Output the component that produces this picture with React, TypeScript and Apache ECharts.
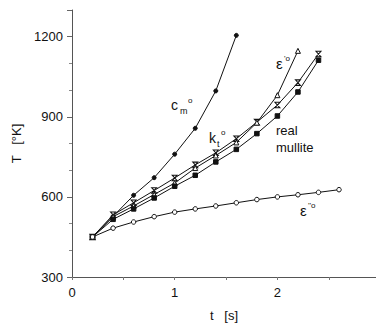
import React, { useEffect, useRef } from "react";
import * as echarts from "echarts";

// Time steps (s) and temperature curves (K)
const tSteps = [0.2, 0.4, 0.6, 0.8, 1.0, 1.2, 1.4, 1.6, 1.8, 2.0, 2.2, 2.4, 2.6];

const cmValues = [450, 527, 606, 672, 760, 857, 997, 1205];
const ktValues = [450, 533, 578, 624, 671, 720, 765, 818, 880, 944, 1028, 1135];
const epsPrimeValues = [450, 526, 566, 609, 652, 708, 755, 804, 878, 981, 1147];
const mulliteValues = [450, 516, 555, 596, 640, 681, 731, 778, 837, 903, 993, 1112];
const epsDoubleValues = [450, 483, 506, 526, 543, 555, 566, 578, 590, 600, 608, 617, 627];

const yTicks = [300, 600, 900, 1200];
const xTickLabels = ["0", "1", "2"];

const FONT = "Liberation Sans, Arial, sans-serif";
const INK = "#111";

const pairs = (vals: number[]) => vals.map((v, i) => [tSteps[i], v]);

const hourglass = "path://M0,0L10,0L0,10L10,10Z";

export default function App() {
  const ref = useRef<HTMLDivElement>(null);

  useEffect(() => {
    if (!ref.current) return;
    const chart = echarts.init(ref.current, undefined, { renderer: "svg" });

    const lineBase = {
      type: "line" as const,
      lineStyle: { color: INK, width: 1 },
      itemStyle: { color: INK, borderColor: INK, borderWidth: 1 },
      symbolKeepAspect: true,
      z: 3,
    };

    const txt = (x: number, y: number, text: string, size = 13, extra: any = {}) => ({
      type: "text",
      x,
      y,
      style: { text, fontSize: size, fontFamily: FONT, fill: INK, verticalAlign: "top", ...extra },
      z: 10,
    });

    chart.setOption({
      animation: false,
      grid: { left: 72, right: 0, top: 10, bottom: 46.5 },
      xAxis: {
        type: "value",
        min: 0,
        max: 2.96,
        interval: 0.5,
        axisLine: { lineStyle: { color: "#555", width: 1 } },
        axisTick: { show: true, length: 3, lineStyle: { color: "#777" } },
        splitLine: { show: false },
        axisLabel: {
          showMaxLabel: false,
          margin: 9,
          fontSize: 13,
          fontFamily: FONT,
          color: INK,
          formatter: (v: number) => (Number.isInteger(v) ? xTickLabels[v] ?? "" : ""),
        },
        name: "t   [s]",
        nameLocation: "middle",
        nameGap: 32,
        nameTextStyle: { fontSize: 13, fontFamily: FONT, color: INK },
      },
      yAxis: {
        type: "value",
        min: 300,
        max: 1300,
        interval: 300,
        axisLine: { show: true, lineStyle: { color: "#555", width: 1 } },
        axisTick: { show: true, length: 5, lineStyle: { color: "#666" } },
        minorTick: { show: true, splitNumber: 3, length: 3, lineStyle: { color: "#888" } },
        splitLine: { show: false },
        axisLabel: {
          showMaxLabel: false,
          margin: 9,
          fontSize: 13,
          fontFamily: FONT,
          color: INK,
          formatter: (v: number) => (yTicks.includes(v) ? String(v) : ""),
        },
        name: "T   [°K]",
        nameLocation: "middle",
        nameGap: 48,
        nameTextStyle: { fontSize: 13, fontFamily: FONT, color: INK },
      },
      series: [
        {
          ...lineBase,
          name: "cm",
          data: pairs(cmValues),
          symbol: "circle",
          symbolSize: 4,
        },
        {
          ...lineBase,
          name: "kt",
          data: pairs(ktValues),
          symbol: hourglass,
          symbolSize: [5, 5.5],
          itemStyle: { color: "#fff", borderColor: INK, borderWidth: 1 },
        },
        {
          ...lineBase,
          name: "epsPrime",
          data: pairs(epsPrimeValues),
          symbol: "triangle",
          symbolSize: 5,
          itemStyle: { color: "#fff", borderColor: INK, borderWidth: 1 },
        },
        {
          ...lineBase,
          name: "mullite",
          data: pairs(mulliteValues).map((p, i) =>
            i === 0
              ? { value: p, itemStyle: { color: "#fff", borderColor: INK, borderWidth: 1.5 } }
              : { value: p }
          ),
          symbol: "rect",
          symbolSize: 4.5,
        },
        {
          ...lineBase,
          name: "epsDouble",
          data: pairs(epsDoubleValues),
          symbol: "circle",
          symbolSize: 4.5,
          itemStyle: { color: "#fff", borderColor: INK, borderWidth: 1 },
        },
      ],
      graphic: [
        txt(171, 98, "c", 14),
        txt(180, 106, "m", 9),
        txt(188, 96, "o", 8),
        txt(209, 131, "k", 14),
        txt(217, 139, "t", 9),
        txt(221, 128, "o", 8),
        txt(276, 56, "ε", 15),
        txt(284, 54, "'o", 8),
        txt(276, 124, "real", 13),
        txt(276, 141, "mullite", 13),
        txt(300, 203, "ε", 15),
        txt(308, 201, "''o", 8),
      ],
    });

    return () => chart.dispose();
  }, []);

  return <div ref={ref} style={{ width: 376, height: 327, position: "absolute", left: 0, top: 0 }} />;
}
